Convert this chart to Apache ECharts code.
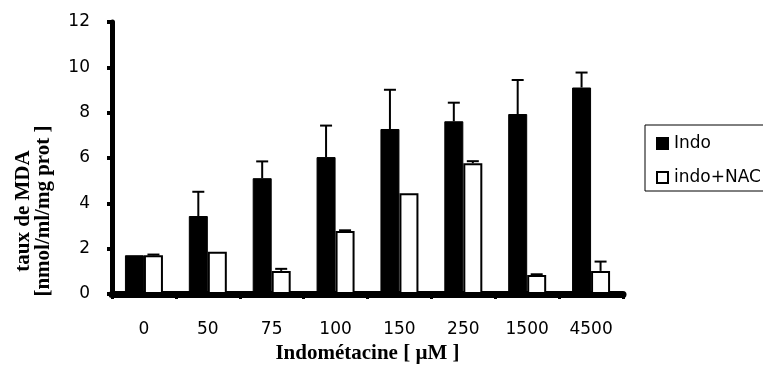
<!DOCTYPE html>
<html>
<head>
<meta charset="utf-8">
<script src="https://cdn.jsdelivr.net/npm/echarts@6/dist/echarts.min.js"></script>
<style>html,body{margin:0;padding:0;background:#fff;}#c{width:763px;height:371px;}</style>
</head>
<body>
<div id="c"></div>
<script>
var categories = ['0', '50', '75', '100', '150', '250', '1500', '4500'];
var indoValues = [1.71, 3.44, 5.11, 6.04, 7.28, 7.62, 7.94, 9.11];
var indoErrors = [0, 1.07, 0.74, 1.39, 1.73, 0.82, 1.50, 0.66];
var nacValues = [1.71, 1.86, 1.02, 2.78, 4.45, 5.77, 0.84, 1.02];
var nacErrors = [0.03, 0, 0.09, 0.03, 0, 0.09, 0.03, 0.41];
var seriesNames = ['Indo', 'indo+NAC'];
var xTitle = 'Indométacine [ µM ]';
var yTitle = 'taux de MDA\n[nmol/ml/mg prot ]';

var BAR_W = 19;
var chart = echarts.init(document.getElementById('c'), null, {renderer: 'canvas'});

function errData(vals, errs) {
  return vals.map(function (v, i) { return [i, v, errs[i]]; });
}
function errRender(sign) {
  return function (params, api) {
    var i = api.value(0), v = api.value(1), e = api.value(2);
    if (!e) return null;
    var p0 = api.coord([i, v]);
    var p1 = api.coord([i, v + e]);
    var x = p0[0] + sign * BAR_W / 2;
    var st = {stroke: '#000', lineWidth: 2};
    return {
      type: 'group',
      children: [
        {type: 'line', shape: {x1: x, y1: p0[1], x2: x, y2: p1[1]}, style: st},
        {type: 'line', shape: {x1: x - 6, y1: p1[1], x2: x + 6, y2: p1[1]}, style: st}
      ]
    };
  };
}

var labelFont = 'DejaVu Sans';
var option = {
  animation: false,
  backgroundColor: '#fff',
  grid: {left: 112, right: 140, top: 22, bottom: 77, containLabel: false},
  legend: {
    data: seriesNames,
    orient: 'vertical',
    left: 645,
    top: 125,
    padding: [10, 60, 5, 11],
    itemGap: 17,
    itemWidth: 11,
    itemHeight: 11,
    borderColor: '#000',
    borderWidth: 1,
    icon: 'rect',
    textStyle: {fontFamily: labelFont, fontSize: 17, color: '#000', padding: [0, 0, 0, 1]}
  },
  xAxis: {
    type: 'category',
    data: categories,
    name: xTitle,
    nameLocation: 'middle',
    nameGap: 46,
    nameTextStyle: {fontFamily: 'Liberation Serif', fontWeight: 'bold', fontSize: 21, color: '#000'},
    axisLine: {lineStyle: {color: '#000', width: 7}},
    axisTick: {show: true, length: 5, lineStyle: {color: '#000', width: 3}},
    axisLabel: {fontFamily: labelFont, fontSize: 17, color: '#000', margin: 27},
    splitLine: {show: false}
  },
  yAxis: {
    type: 'value',
    min: 0,
    max: 12,
    interval: 2,
    axisLine: {show: true, lineStyle: {color: '#000', width: 5}},
    axisTick: {show: true, length: 5, lineStyle: {color: '#000', width: 4}},
    axisLabel: {fontFamily: labelFont, fontSize: 17, color: '#000', margin: 22},
    splitLine: {show: false}
  },
  graphic: [{
    type: 'text',
    x: 34,
    y: 211,
    rotation: Math.PI / 2,
    style: {
      text: yTitle,
      font: 'bold 21px "Liberation Serif"',
      fill: '#000',
      align: 'center',
      verticalAlign: 'middle',
      lineHeight: 20
    }
  }],
  series: [
    {
      name: seriesNames[0],
      type: 'bar',
      data: indoValues,
      barWidth: BAR_W,
      barGap: '0%',
      itemStyle: {color: '#000', borderColor: '#000', borderWidth: 1}
    },
    {
      name: seriesNames[1],
      type: 'bar',
      data: nacValues,
      barWidth: BAR_W,
      barGap: '0%',
      itemStyle: {color: '#fff', borderColor: '#000', borderWidth: 2}
    },
    {
      type: 'custom',
      name: 'errIndo',
      data: errData(indoValues, indoErrors),
      renderItem: errRender(-1),
      z: 5
    },
    {
      type: 'custom',
      name: 'errNac',
      data: errData(nacValues, nacErrors),
      renderItem: errRender(1),
      z: 5
    }
  ]
};
chart.setOption(option);
</script>
</body>
</html>
